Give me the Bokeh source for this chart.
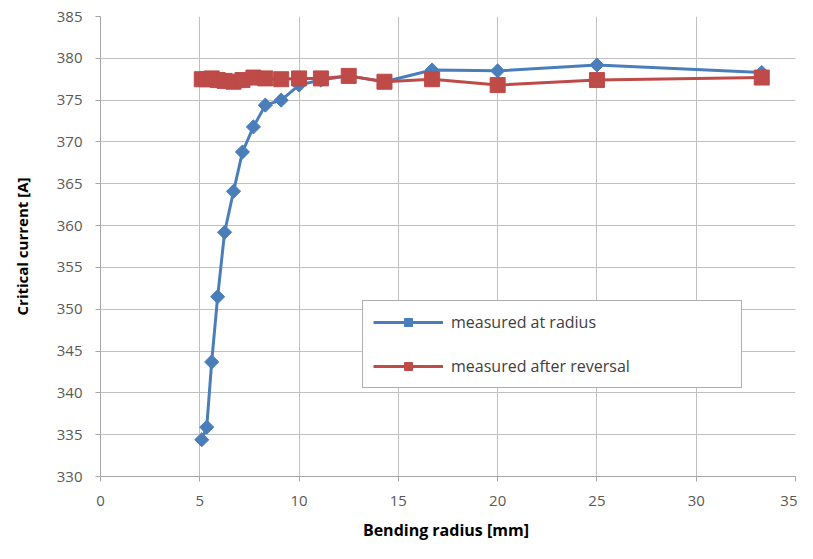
import math
from bokeh.plotting import figure
from bokeh.models import FixedTicker, Legend, LegendItem
from bokeh.embed import file_html
from bokeh.resources import INLINE

# Data
radius_at = [5.1, 5.35, 5.6, 5.9, 6.25, 6.7, 7.15, 7.7, 8.3, 9.1, 10.0, 11.1, 12.5, 14.3, 16.7, 20.0, 25.0, 33.3]
current_at = [334.4, 335.9, 343.7, 351.5, 359.2, 364.1, 368.8, 371.8, 374.4, 375.0, 376.8, 377.4, 377.9, 377.2, 378.6, 378.5, 379.2, 378.3]

radius_rev = [5.1, 5.35, 5.6, 5.9, 6.25, 6.7, 7.15, 7.7, 8.3, 9.1, 10.0, 11.1, 12.5, 14.3, 16.7, 20.0, 25.0, 33.3]
current_rev = [377.5, 377.5, 377.6, 377.4, 377.3, 377.2, 377.4, 377.7, 377.6, 377.5, 377.6, 377.6, 377.9, 377.2, 377.5, 376.8, 377.4, 377.7]

x_ticks = [0, 5, 10, 15, 20, 25, 30, 35]
y_ticks = [330, 335, 340, 345, 350, 355, 360, 365, 370, 375, 380, 385]

label_at = "measured at radius"
label_rev = "measured after reversal"
x_title = "Bending radius  [mm]"
y_title = "Critical current [A]"

BLUE = "#4a7ebb"
RED = "#be4b48"
FONT = "Open Sans"

p = figure(width=797, height=543, output_backend="svg", toolbar_location=None,
           x_range=(0, 35), y_range=(330, 385),
           min_border_left=100, min_border_right=2, min_border_top=16, min_border_bottom=67)
p.outline_line_color = None
p.background_fill_color = "white"

for ax, ticks in ((p.xaxis[0], x_ticks), (p.yaxis[0], y_ticks)):
    ax.ticker = FixedTicker(ticks=ticks)
    ax.minor_tick_line_color = None
    ax.major_tick_in = 0
    ax.major_tick_out = 5
    ax.axis_line_color = "#a6a6a6"
    ax.major_tick_line_color = "#a6a6a6"
    ax.major_label_text_font = FONT
    ax.major_label_text_font_size = "15px"
    ax.major_label_text_color = "#595959"
    ax.axis_label_text_font = FONT
    ax.axis_label_text_font_style = "bold"
    ax.axis_label_text_color = "#000000"

p.xaxis.axis_label = x_title
p.xaxis.axis_label_text_font_size = "16px"
p.xaxis.major_label_standoff = 14
p.xaxis.axis_label_standoff = 10
p.yaxis.axis_label = y_title
p.yaxis.axis_label_text_font_size = "15px"
p.yaxis.major_label_standoff = 13
p.yaxis.axis_label_standoff = 22

p.xgrid.ticker = FixedTicker(ticks=x_ticks)
p.ygrid.ticker = FixedTicker(ticks=y_ticks)
p.grid.grid_line_color = "#c0c0c0"
p.grid.grid_line_width = 1

l1 = p.line(radius_at, current_at, line_color=BLUE, line_width=3)
m1 = p.scatter(radius_at, current_at, marker="square", angle=math.pi / 4, size=10,
               fill_color=BLUE, line_color=BLUE)
l2 = p.line(radius_rev, current_rev, line_color=RED, line_width=3)
m2 = p.scatter(radius_rev, current_rev, marker="square", size=15,
               fill_color=RED, line_color=RED)

legend = Legend(items=[LegendItem(label=label_at, renderers=[l1, m1]),
                       LegendItem(label=label_rev, renderers=[l2, m2])],
                location=(262, 88), padding=10, spacing=22, margin=0,
                glyph_width=70, glyph_height=20, label_height=20,
                label_standoff=8, label_width=280,
                label_text_font=FONT, label_text_font_size="16px",
                label_text_color="#404040",
                border_line_color="#606060", border_line_width=1,
                background_fill_color="white", background_fill_alpha=1.0)
p.add_layout(legend, "center")

open("out.html", "w").write(file_html(p, INLINE))
